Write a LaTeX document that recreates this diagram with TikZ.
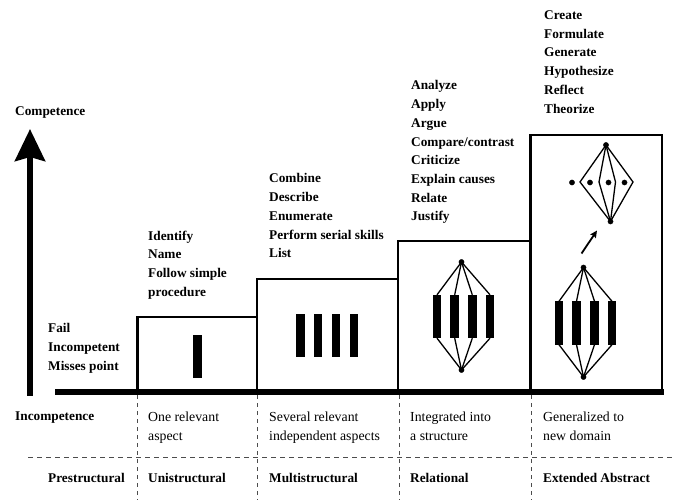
\documentclass[tikz,border=0pt]{standalone}
\usepackage{fontspec}
\setmainfont{Liberation Serif}
\usetikzlibrary{arrows.meta}
\tikzset{
  verbs/.style={anchor=north west, align=left, inner sep=0pt, font=\bfseries\fontsize{13.3}{18.7}\selectfont},
  descr/.style={anchor=north west, align=left, inner sep=0pt, font=\fontsize{13.8}{19}\selectfont},
  level/.style={anchor=north west, inner sep=0pt, font=\bfseries\fontsize{13.3}{16}\selectfont},
  bar/.style={fill=black, inner sep=0pt, minimum width=8.5pt, minimum height=43pt},
  link/.style={line width=1.3pt},
  grid/.style={dash pattern=on 5pt off 4pt, line width=0.8pt, black!70},
}
\begin{document}
\begin{tikzpicture}[x=1pt, y=-1pt]
            \useasboundingbox (0,0) rectangle (673,500);
            \def\ybase{391.5}
            \def\ua{137.5}
            \def\ub{257}
            \def\uc{398}
            \def\ud{530.5}
            \def\ue{662}

            % competence axis and ground line
            \coordinate(cb) at (30, 395.5);
            \coordinate(ct) at (30, 129);
            \draw[line width=6pt, -{Stealth[length=32pt, width=30pt, inset=4pt]}] (cb) -- (ct);
            \node[level, anchor=base west] (comp) at (15, 115.5) {Competence};
            \draw[line width=6pt] (55, \ybase) -- (664, \ybase);

            % steps
            \draw[line width=2.8pt] (\ua, \ybase) |- (\ub, 317) |- (\uc, 279) |- (\ud, 241) |- (\ue, 135) -- (\ue, \ybase);
            \draw[line width=2.8pt] (\ub, 317) -- (\ub, \ybase);
            \draw[line width=2.8pt] (\uc, 279) -- (\uc, \ybase);
            \draw[line width=2.8pt] (\ud, 241) -- (\ud, \ybase);

            % unistructural
            \node[bar, minimum width=9pt] (u1) at (197.5, 356.5) {};

            % multistructural
            \foreach \i/\x in {1/300.5, 2/318, 3/336, 4/354}
                \node[bar] (m\i) at (\x, 335.5) {};

            % relational
            \coordinate(rt) at (461.5, 262);
            \coordinate(rb) at (461.5, 370);
            \foreach \i/\x in {1/437, 2/454.7, 3/472.3, 4/490} {
                \node[bar] (r\i) at (\x, 316.5) {};
                \draw[link] (rt) -- (r\i.north);
                \draw[link] (r\i.south) -- (rb);
            }
            \filldraw[black] (rt) circle (2.6pt);
            \filldraw[black] (rb) circle (2.6pt);

            % extended abstract, lower
            \coordinate(et) at (583.5, 267.5);
            \coordinate(eb) at (583.5, 377);
            \foreach \i/\x in {1/559, 2/576.5, 3/594.5, 4/612} {
                \node[bar] (e\i) at (\x, 323) {};
                \draw[link] (et) -- (e\i.north);
                \draw[link] (e\i.south) -- (eb);
            }
            \filldraw[black] (et) circle (2.6pt);
            \filldraw[black] (eb) circle (2.6pt);

            % extended abstract, upper
            \coordinate(gt) at (606, 145);
            \coordinate(gb) at (610.5, 221.5);
            \foreach \i/\x in {1/580, 2/599, 3/615.5, 4/633} {
                \coordinate(c\i) at (\x, 182);
                \draw[link] (gt) -- (c\i) -- (gb);
            }
            \foreach \i/\x in {1/572, 2/590, 3/608.5, 4/624.5}
                \filldraw[black] (\x, 182.5) circle (2.6pt) coordinate (g\i);
            \filldraw[black] (gt) circle (2.6pt);
            \filldraw[black] (gb) circle (2.6pt);
            \coordinate(a0) at (581.5, 253.5);
            \coordinate(a1) at (597, 230.5);
            \draw[line width=1.8pt, -{Stealth[length=7pt, width=6.5pt, inset=1pt]}] (a0) -- (a1);

            % verbs
            \node[verbs] (vp) at (48, 323.5) {Fail\\Incompetent\\Misses point};
            \node[verbs] (vu) at (148, 230.5) {Identify\\Name\\Follow simple\\procedure};
            \node[verbs] (vm) at (269, 173.5) {Combine\\Describe\\Enumerate\\Perform serial skills\\List};
            \node[verbs] (vr) at (411, 80.5) {Analyze\\Apply\\Argue\\Compare/contrast\\Criticize\\Explain causes\\Relate\\Justify};
            \node[verbs] (ve) at (544, 10.5) {Create\\Formulate\\Generate\\Hypothesize\\Reflect\\Theorize};

            % table below
            \draw[grid] (28, 457) -- (673, 457);
            \foreach \x in {137.5, 257, 399, 531}
                \draw[grid, dash pattern=on 4pt off 4pt] (\x, 395) -- (\x, 500);

            \node[level] (dp) at (15, 411.5) {Incompetence};
            \node[descr] (du) at (148, 411.5) {One relevant\\aspect};
            \node[descr] (dm) at (269, 411.5) {Several relevant\\independent aspects};
            \node[descr] (dr) at (410, 411.5) {Integrated into\\a structure};
            \node[descr] (de) at (543, 411.5) {Generalized to\\new domain};

            \node[level] (lp) at (48, 473.5) {Prestructural};
            \node[level] (lu) at (148, 473.5) {Unistructural};
            \node[level] (lm) at (269, 473.5) {Multistructural};
            \node[level] (lr) at (410, 473.5) {Relational};
            \node[level] (le) at (543, 473.5) {Extended Abstract};
        \end{tikzpicture}
\end{document}
